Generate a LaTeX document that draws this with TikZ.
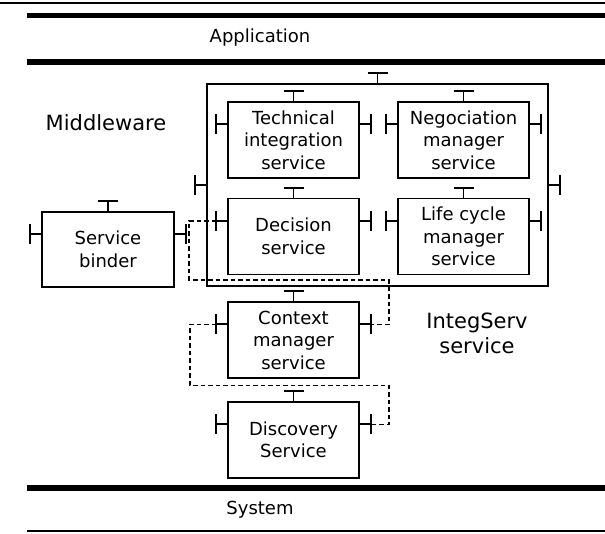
\documentclass[tikz,border=0pt]{standalone}
\usepackage{fontspec}
\setmainfont{DejaVu Sans}
\usetikzlibrary{calc}
\def\porttop(#1){\draw[port] (#1.north) -- ++(0,-10) ++(-10,0) -- ++(20,0);}
\def\portsides[#1](#2){\draw[port] ($(#2.north west)!#1!(#2.south west)$) -- ++(-11,0) coordinate (#2-l) ++(0,-10) -- ++(0,20);
	\draw[port] ($(#2.north east)!#1!(#2.south east)$) -- ++(11,0) coordinate (#2-r) ++(0,-10) -- ++(0,20);}

\begin{document}
\begin{tikzpicture}[x=1pt, y=-1pt,
		every node/.style={font=\fontsize{18}{22.5}\selectfont},
		box/.style={draw, line width=1.9pt, align=center, minimum width=131pt, minimum height=76pt},
		port/.style={line width=1.9pt},
		link/.style={line width=1.7pt, dash pattern=on 4.5pt off 3pt},
		big/.style={font=\fontsize{21}{25}\selectfont, align=center}]
		%%%%% START %%%%%
		\useasboundingbox (0, 0) rectangle (605, 533);
		
		\draw[line width=2pt] (0, 2.5) -- (605, 2.5);
		\draw[line width=5.5pt] (27, 15.5) -- (605, 15.5);
		\node (app) at (260, 38) {Application};
		\draw[line width=5.5pt] (27, 62) -- (605, 62);
		
		\node[big] (mw) at (106, 123) {Middleware};
		\node[big] (isv) at (477, 333) {IntegServ\\service};
		
		\node[box, minimum width=341pt, minimum height=202pt] (integ) at (377.5, 185) {};
		\porttop(integ)
		\portsides[0.5](integ)
		
		\node[box] (tech) at (293.5, 140) {Technical\\integration\\service};
		\node[box] (nego) at (463.5, 140) {Negociation\\manager\\service};
		\node[box] (deci) at (293.5, 236.5) {Decision\\service};
		\node[box] (life) at (463.5, 236.5) {Life cycle\\manager\\service};
		\node[box, minimum width=132pt, minimum height=75pt] (bind) at (108, 249.5) {Service\\binder};
		\node[box] (ctx) at (293.5, 340) {Context\\manager\\service};
		\node[box] (disc) at (293.5, 440) {Discovery\\Service};
		
		\porttop(tech) \portsides[0.3](tech)
		\porttop(nego) \portsides[0.3](nego)
		\porttop(deci) \portsides[0.3](deci)
		\porttop(life) \portsides[0.3](life)
		\porttop(bind) \portsides[0.3](bind)
		\porttop(ctx) \portsides[0.3](ctx)
		\porttop(disc) \portsides[0.3](disc)
		
		\draw[link] (deci-l) -- ++(-27, 0) -- ++(0, 59) -| ($(ctx-r)+(18, 0)$) -- (ctx-r);
		\draw[link] (ctx-l) -- ++(-26, 0) -- ++(0, 61) -| ($(disc-r)+(18, 0)$) -- (disc-r);
		
		\draw[line width=5.5pt] (27, 488) -- (605, 488);
		\node (sys) at (260, 510) {System};
		\draw[line width=2pt] (27, 531) -- (605, 531);
		%%%%% END %%%%%
\end{tikzpicture}
\end{document}
